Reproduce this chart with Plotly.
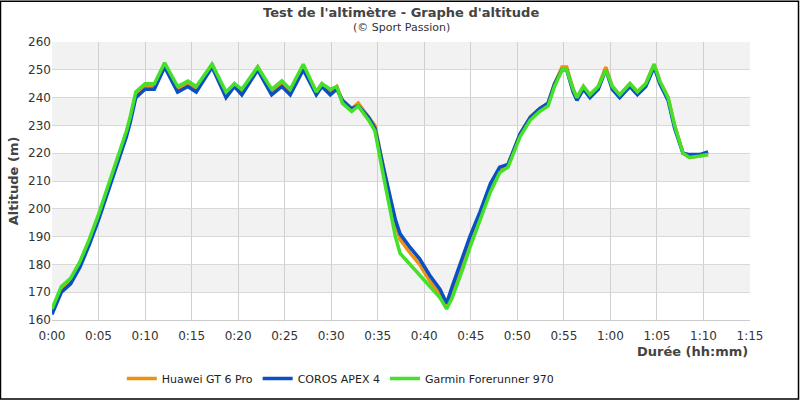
import plotly.graph_objects as go

# time in minutes
t = [0, 1, 2, 3, 4, 5, 6, 7, 8, 8.4, 9, 10, 11, 12.1, 13.5, 14.6, 15.5, 17.2, 18.7, 19.6, 20.4,
     22.1, 23.6, 24.7, 25.6, 27, 28.4, 29, 29.9, 30.6, 31.2, 32.2, 32.9, 34, 34.7, 35.6, 36.9,
     37.4, 38.5, 39.5, 40.6, 41.7, 42.4, 43, 44.1, 44.9, 46, 47.1, 48.1, 49, 50.3, 51.4, 52.4,
     53.3, 54, 54.8, 55.3, 56, 56.4, 57.1, 57.8, 58.7, 59.5, 60.2, 61, 62.1, 62.9, 63.8, 64.7,
     65.3, 66.2, 66.9, 67.8, 68.5, 69.6, 70.5]
huawei = [163, 171, 174, 180, 188, 197, 207, 217, 227, 232, 241, 244, 244, 252, 243, 245, 243, 252, 241, 245, 242,
          251, 242, 245, 242, 251, 242, 245, 242, 244, 239, 236, 238, 233, 230, 215, 195,
          189, 184, 180, 174, 169, 165, 170, 180, 188, 198, 208, 214, 216, 227, 233, 236,
          238, 245, 251, 251, 243, 240, 244, 241, 244, 251, 244, 241, 245, 242, 245, 252,
          246, 240, 230, 220, 218.5, 219, 219.5]
coros = [162, 170, 173, 179, 187, 196, 206, 216, 226, 231, 240, 243, 243, 251, 242, 244, 242, 251, 240, 244, 241,
         250, 241, 244, 241, 250, 241, 244, 241, 243, 239, 236, 237, 233, 229, 215, 196,
         191, 186, 182, 176, 171, 166, 172, 182, 190, 199, 209, 215, 216, 227, 233, 236,
         238, 245, 250, 250, 242, 239, 243, 240, 243, 250, 243, 240, 244, 241, 244, 251,
         245, 239, 229, 220, 219.5, 219.5, 220.5]
garmin = [164, 172, 175, 181, 189, 198, 208, 218, 228, 233, 242, 245, 245, 252.5, 244, 246, 244, 252, 242, 245, 243,
          251, 243, 246, 243, 252, 242, 245, 243, 244, 238, 235, 237, 232, 228, 212, 190,
          184, 180, 176, 172, 168, 164, 168, 178, 186, 196, 206, 213, 215, 226, 232, 235,
          237, 244, 250, 250, 243, 240, 244, 241, 244, 250, 244, 241, 245, 242, 245, 252,
          246, 240, 230, 220, 218.5, 219, 219.5]
series = [("Huawei GT 6 Pro", huawei, "#f0900f"), ("COROS APEX 4", coros, "#0b4fc4"),
          ("Garmin Forerunner 970", garmin, "#45e02a")]
tick_min = list(range(0, 80, 5))
tick_lbl = [f"{m // 60}:{m % 60:02d}" for m in tick_min]

fig = go.Figure()
for name, vals, col in series:
    fig.add_trace(go.Scatter(x=t, y=vals, name=name, mode="lines", line=dict(color=col, width=3.5)))

# alternating horizontal bands
for lo in range(170, 260, 20):
    fig.add_shape(type="rect", xref="x", yref="y", x0=0, x1=75, y0=lo, y1=lo + 10,
                  fillcolor="#f2f2f2", line_width=0, layer="below")
fig.add_shape(type="rect", xref="paper", yref="paper", x0=-0.0738, x1=1.0695, y0=-0.284, y1=1.147,
              line=dict(color="black", width=1.5))

fig.add_annotation(text="<b>Test de l'altimètre - Graphe d'altitude</b>", xref="paper", yref="paper",
                   x=0.5, y=1.147, yanchor="top", showarrow=False, yshift=-2, font=dict(size=13, color="#444"))
fig.add_annotation(text="(© Sport Passion)", xref="paper", yref="paper",
                   x=0.5, y=1.147, yanchor="top", showarrow=False, yshift=-18, font=dict(size=11, color="#333"))
fig.add_annotation(text="<b>Durée (hh:mm)</b>", xref="paper", yref="paper",
                   x=1.0, y=-0.08, xanchor="right", yanchor="top", showarrow=False, font=dict(size=13, color="#444"))

fig.update_layout(
    width=800, height=400, plot_bgcolor="white", paper_bgcolor="white",
    margin=dict(l=52, r=50, t=42, b=80, autoexpand=False),
    font=dict(family="DejaVu Sans", size=12, color="#333"),
    legend=dict(orientation="h", x=0.1, y=-0.21, xanchor="left", yanchor="middle", font=dict(size=11, color="#222")),
    showlegend=True,
)
fig.update_xaxes(range=[0, 75], tickvals=tick_min, ticktext=tick_lbl, showgrid=True, gridcolor="#d0d0d0",
                 zeroline=False, showline=True, linecolor="#ccc", ticks="outside", ticklen=5, tickcolor="white",
                 automargin=False)
fig.update_yaxes(range=[160, 260], dtick=10, showgrid=True, gridcolor="#d8d8d8", zeroline=False, automargin=False,
                 title=dict(text="<b>Altitude (m)</b>", font=dict(size=13, color="#444"), standoff=6))
fig.write_html("out.html", config={"displayModeBar": False}, post_script="document.body.style.margin='0';")
